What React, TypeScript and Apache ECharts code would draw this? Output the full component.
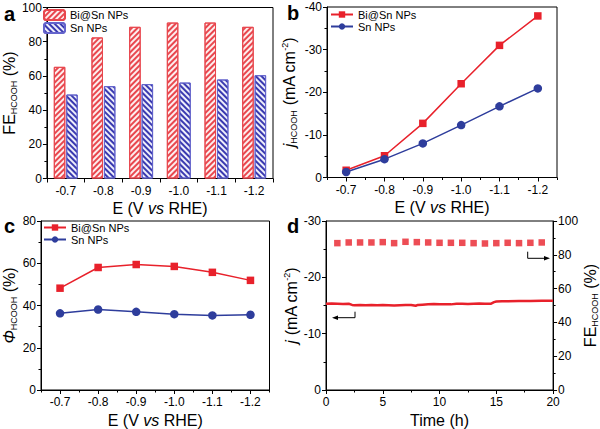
import React, { useEffect, useRef } from 'react';
import * as echarts from 'echarts';

const potentials = ['-0.7', '-0.8', '-0.9', '-1.0', '-1.1', '-1.2'];
const seriesNames = ['Bi@Sn NPs', 'Sn NPs'];

// panel a: Faradaic efficiency (%)
const feBiSn = [65.3, 82.5, 88.7, 91.2, 91.2, 88.7];
const feSn = [49.1, 54.0, 55.2, 56.1, 57.9, 60.4];

// panel b: partial current density (mA cm-2)
const jBiSn = [-1.7, -5.1, -12.7, -22.0, -31.0, -37.9];
const jSn = [-1.3, -4.3, -8.0, -12.3, -16.7, -20.9];

// panel c: energy efficiency (%)
const phiBiSn = [48.2, 58.0, 59.4, 58.5, 55.7, 51.9];
const phiSn = [36.3, 38.1, 37.0, 35.9, 35.3, 35.6];

// panel d: stability test
const stabTime = [0, 0.5, 1, 1.5, 2, 2.3, 2.5, 3, 3.5, 4, 4.5, 5, 5.5, 6, 6.5, 7, 7.5, 7.9, 8.1, 8.5, 9, 9.5, 10, 10.5, 11, 11.5, 12, 12.5, 13, 13.5, 14, 14.5, 14.8, 15, 15.5, 16, 17, 18, 19, 20];
const stabJ = [-15.3, -15.35, -15.3, -15.25, -15.3, -15.1, -15.05, -15.1, -15.05, -15.1, -15.05, -15.1, -15.05, -15.0, -15.05, -15.1, -15.1, -14.95, -15.1, -15.15, -15.2, -15.25, -15.2, -15.2, -15.2, -15.3, -15.3, -15.25, -15.3, -15.35, -15.3, -15.3, -15.6, -15.7, -15.75, -15.75, -15.8, -15.8, -15.85, -15.85];
const feTime = [1, 2, 3, 4, 5, 6, 7, 8, 9, 10, 11, 12, 13, 14, 15, 16, 17, 18, 19];
const feStab = [86.9, 87.3, 87.3, 87.3, 87.5, 86.9, 87.7, 87.5, 87.3, 87.1, 87.1, 87.1, 86.9, 86.7, 86.9, 87.1, 86.9, 87.1, 87.3];

const FONT = '"Liberation Sans", Arial, sans-serif';
const RED = '#e8212b';
const BLUE = '#2e3d9c';

const rich = {
  t: { fontSize: 16, fontFamily: FONT, color: '#000' },
  i: { fontSize: 16, fontFamily: FONT, fontStyle: 'italic', color: '#000' },
  s: { fontSize: 9, fontFamily: FONT, color: '#000', padding: [9, 0, 0, 0] },
  p: { fontSize: 9, fontFamily: FONT, color: '#000', padding: [0, 0, 9, 0] },
};

const baseAxis = (extra: any) => ({
  axisLine: { show: true, onZero: false, lineStyle: { color: '#000', width: 1 } },
  axisTick: { show: true, length: 4, lineStyle: { color: '#000', width: 1 } },
  axisLabel: { color: '#000', fontSize: 12, fontFamily: FONT, margin: 5 },
  splitLine: { show: false },
  nameTextStyle: { rich, fontSize: 16, fontFamily: FONT, color: '#000' },
  ...extra,
});

const xName = '{t|E (V }{i|vs}{t| RHE)}';

function optionA(): any {
  return {
    animation: false,
    aria: { enabled: true, decal: { show: true } },
    textStyle: { fontFamily: FONT },
    grid: { left: 41, top: 7.5, width: 232, height: 171, show: true, borderColor: '#000', borderWidth: 1 },
    xAxis: baseAxis({
      type: 'category',
      data: potentials,
      name: xName,
      nameLocation: 'middle',
      nameGap: 22,
      axisLabel: { color: '#000', fontSize: 12, fontFamily: FONT, margin: 6 },
    }),
    yAxis: baseAxis({
      type: 'value',
      min: 0,
      max: 100,
      interval: 20,
      name: '{t|FE}{s|HCOOH}{t| (%)}',
      nameLocation: 'middle',
      nameGap: 24,
      minorTick: { show: true, splitNumber: 2, length: 2.5, lineStyle: { color: '#000' } },
    }),
    legend: {
      data: seriesNames,
      orient: 'vertical',
      left: 43,
      top: 9,
      itemWidth: 21,
      itemHeight: 10,
      itemGap: 1,
      padding: 0,
      textStyle: { fontSize: 11, fontFamily: FONT, color: '#000' },
    },
    series: [
      {
        name: seriesNames[0],
        type: 'bar',
        data: feBiSn,
        barWidth: 11.5,
        barGap: '8%',
        itemStyle: {
          color: '#fdeeee',
          borderColor: '#e8474e',
          borderWidth: 1,
          decal: { symbol: 'rect', symbolSize: 1, color: '#e8474e', dashArrayX: [1, 0], dashArrayY: [1.5, 1.8], rotation: -Math.PI / 4 },
        },
      },
      {
        name: seriesNames[1],
        type: 'bar',
        data: feSn,
        barWidth: 11.5,
        itemStyle: {
          color: '#eeeefa',
          borderColor: '#6464cc',
          borderWidth: 1,
          decal: { symbol: 'rect', symbolSize: 1, color: '#3a3ab0', dashArrayX: [1, 0], dashArrayY: [1.5, 1.8], rotation: Math.PI / 4 },
        },
      },
    ],
    graphic: [
      { type: 'text', left: 4, top: 4, style: { text: 'a', font: 'bold 20px ' + FONT, fill: '#000' } },
      { type: 'text', left: 287, top: 3, style: { text: 'b', font: 'bold 20px ' + FONT, fill: '#000' } },
    ],
  };
}

function lineSeries(name: string, data: number[], xi: number, yi: number, red: boolean) {
  return {
    name,
    type: 'line',
    xAxisIndex: xi,
    yAxisIndex: yi,
    data,
    symbol: red ? 'rect' : 'circle',
    symbolSize: red ? 7.5 : 8.5,
    showAllSymbol: true,
    itemStyle: { color: red ? RED : BLUE },
    lineStyle: { color: red ? RED : BLUE, width: 1.5 },
  };
}

function minorCatAxis(gridIndex: number) {
  return {
    type: 'category',
    gridIndex,
    position: 'bottom',
    data: potentials,
    axisLine: { show: false },
    axisLabel: { show: false },
    axisTick: { show: true, length: 2.5, lineStyle: { color: '#000' } },
    splitLine: { show: false },
  };
}

function optionBCD(): any {
  const gridStyle = { show: true, borderColor: '#000', borderWidth: 1 };
  const arrowFont = { stroke: '#000', lineWidth: 1, fill: 'none' };
  return {
    animation: false,
    textStyle: { fontFamily: FONT },
    grid: [
      { left: 327, top: 7, width: 230, height: 170.5, ...gridStyle },
      { left: 41, top: 221, width: 228.5, height: 171, ...gridStyle },
      { left: 326, top: 221, width: 231, height: 171, ...gridStyle },
    ],
    xAxis: [
      baseAxis({ type: 'category', gridIndex: 0, position: 'bottom', data: potentials, name: xName, nameLocation: 'middle', nameGap: 22, axisTick: { show: true, alignWithLabel: true, length: 4, lineStyle: { color: '#000' } }, axisLabel: { color: '#000', fontSize: 12, fontFamily: FONT, margin: 6 } }),
      minorCatAxis(0),
      baseAxis({ type: 'category', gridIndex: 1, position: 'bottom', data: potentials, name: xName, nameLocation: 'middle', nameGap: 22, axisTick: { show: true, alignWithLabel: true, length: 4, lineStyle: { color: '#000' } }, axisLabel: { color: '#000', fontSize: 12, fontFamily: FONT, margin: 6 } }),
      minorCatAxis(1),
      baseAxis({ type: 'value', gridIndex: 2, position: 'bottom', min: 0, max: 20, interval: 5, name: '{t|Time (h)}', nameLocation: 'middle', nameGap: 22, minorTick: { show: true, splitNumber: 2, length: 2.5, lineStyle: { color: '#000' } }, axisLabel: { color: '#000', fontSize: 12, fontFamily: FONT, margin: 6 } }),
    ],
    yAxis: [
      baseAxis({ type: 'value', gridIndex: 0, min: -40, max: 0, interval: 10, inverse: true, name: '{i|j}{s|HCOOH}{t| (mA cm}{p|-2}{t|)}', nameLocation: 'middle', nameGap: 29, minorTick: { show: true, splitNumber: 2, length: 2.5, lineStyle: { color: '#000' } } }),
      baseAxis({ type: 'value', gridIndex: 1, min: 0, max: 80, interval: 20, name: '{i|Φ}{s|HCOOH}{t| (%)}', nameLocation: 'middle', nameGap: 22, minorTick: { show: true, splitNumber: 2, length: 2.5, lineStyle: { color: '#000' } } }),
      baseAxis({ type: 'value', gridIndex: 2, position: 'left', min: -30, max: 0, interval: 10, inverse: true, name: '{i|j}{t| (mA cm}{p|-2}{t|)}', nameLocation: 'middle', nameGap: 26, minorTick: { show: true, splitNumber: 2, length: 2.5, lineStyle: { color: '#000' } } }),
      baseAxis({ type: 'value', gridIndex: 2, position: 'right', min: 0, max: 100, interval: 20, name: '{t|FE}{s|HCOOH}{t| (%)}', nameLocation: 'middle', nameGap: 26, minorTick: { show: true, splitNumber: 2, length: 2.5, lineStyle: { color: '#000' } } }),
    ],
    legend: [
      { data: seriesNames, orient: 'vertical', left: 330, top: 9, itemWidth: 22, itemHeight: 8, itemGap: 1, padding: 0, textStyle: { fontSize: 11, fontFamily: FONT, color: '#000' } },
      { data: seriesNames, orient: 'vertical', left: 43, top: 222, itemWidth: 22, itemHeight: 8, itemGap: 1, padding: 0, textStyle: { fontSize: 11, fontFamily: FONT, color: '#000' } },
    ],
    series: [
      lineSeries(seriesNames[0], jBiSn, 0, 0, true),
      lineSeries(seriesNames[1], jSn, 0, 0, false),
      lineSeries(seriesNames[0], phiBiSn, 2, 1, true),
      lineSeries(seriesNames[1], phiSn, 2, 1, false),
      {
        name: 'j',
        type: 'line',
        xAxisIndex: 4,
        yAxisIndex: 2,
        data: stabTime.map((t, k) => [t, stabJ[k]]),
        showSymbol: false,
        lineStyle: { color: RED, width: 2.5 },
        itemStyle: { color: RED },
      },
      {
        name: 'FE',
        type: 'scatter',
        xAxisIndex: 4,
        yAxisIndex: 3,
        data: feTime.map((t, k) => [t, feStab[k]]),
        symbol: 'rect',
        symbolSize: 6.5,
        itemStyle: { color: RED },
      },
    ],
    graphic: [
      { type: 'text', left: 4, top: 216, style: { text: 'c', font: 'bold 20px ' + FONT, fill: '#000' } },
      { type: 'text', left: 287, top: 216, style: { text: 'd', font: 'bold 20px ' + FONT, fill: '#000' } },
      { type: 'polyline', shape: { points: [[355, 311.7], [355, 317.7], [337, 317.7]] }, style: arrowFont },
      { type: 'polygon', shape: { points: [[332, 317.7], [338, 315.5], [338, 319.9]] }, style: { fill: '#000' } },
      { type: 'polyline', shape: { points: [[527.7, 251.7], [527.7, 258.3], [545, 258.3]] }, style: arrowFont },
      { type: 'polygon', shape: { points: [[550, 258.3], [544, 256.1], [544, 260.5]] }, style: { fill: '#000' } },
    ],
  };
}

export default function App() {
  const refA = useRef<HTMLDivElement>(null);
  const refB = useRef<HTMLDivElement>(null);
  useEffect(() => {
    const ca = echarts.init(refA.current!, undefined, { renderer: 'svg' });
    ca.setOption(optionA());
    const cb = echarts.init(refB.current!, undefined, { renderer: 'svg' });
    cb.setOption(optionBCD());
    return () => {
      ca.dispose();
      cb.dispose();
    };
  }, []);
  const box: React.CSSProperties = { position: 'absolute', left: 0, top: 0, width: 600, height: 429 };
  return (
    <div style={{ position: 'absolute', left: 0, top: 0, width: 600, height: 429, background: '#fff' }}>
      <div ref={refA} style={box} />
      <div ref={refB} style={box} />
    </div>
  );
}
